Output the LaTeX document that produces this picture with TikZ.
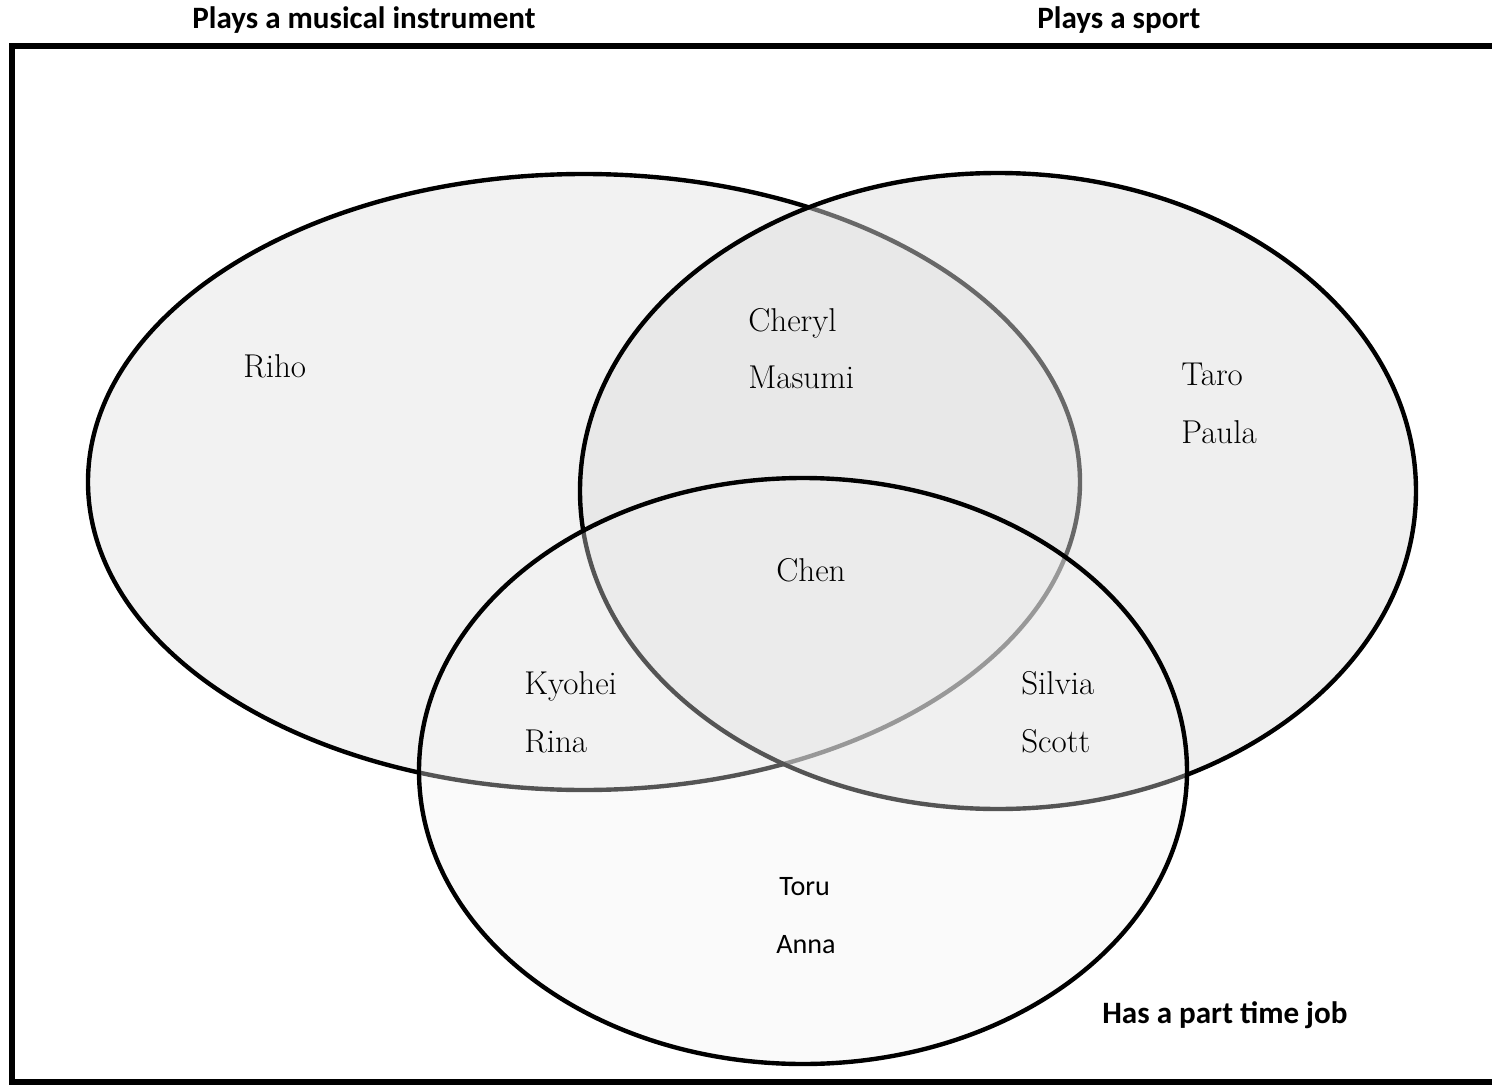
\documentclass[tikz,border=0pt]{standalone}
\usepackage{fontspec}
\newfontfamily\calibri{Carlito}
\definecolor{fillA}{gray}{0.949}
\definecolor{fillB}{gray}{0.866}
\definecolor{fillC}{gray}{0.95}
\begin{document}
\begin{tikzpicture}[x=0.02cm,y=-0.02cm,
  setring/.style={line width=2.5pt, draw=black},
  person/.style={anchor=base west, inner sep=0pt, font=\fontsize{18.8}{21}\selectfont},
  sansperson/.style={anchor=base west, inner sep=0pt, font=\calibri\fontsize{16}{19}\selectfont},
  heading/.style={anchor=base west, inner sep=0pt, font=\calibri\bfseries\fontsize{17.7}{20}\selectfont}]
\useasboundingbox (0,0) rectangle (1492,1085);
\fill[white] (0,0) rectangle (1492,1085);
\begin{scope}
\clip (0,0) rectangle (1492,1085);
\draw[line width=2.9pt] (1520,46) -- (12,46) -- (12,1082) -- (1520,1082);
\end{scope}
% sets
\draw[setring, fill=fillA] (584,482) ellipse [x radius=496, y radius=308];
\draw[setring, fill=fillB, fill opacity=0.47] (998,491) ellipse [x radius=418, y radius=318];
\draw[setring, fill=fillC, fill opacity=0.35] (803,771) ellipse [x radius=384, y radius=293];
% headings
\node[heading] (hmusic) at (192,29) {Plays a musical instrument};
\node[heading] (hsport) at (1037,29) {Plays a sport};
\node[heading] (hjob) at (1102,1023) {Has a part time job};
% names
\node[person] (riho) at (243,377) {Riho};
\node[person] (cheryl) at (748,331) {Cheryl};
\node[person] (masumi) at (748,388) {Masumi};
\node[person] (taro) at (1181,385) {Taro};
\node[person] (paula) at (1181,443) {Paula};
\node[person] (chen) at (776,581) {Chen};
\node[person] (kyohei) at (524,694) {Kyohei};
\node[person] (rina) at (524,752) {Rina};
\node[person] (silvia) at (1021,694) {Silvia};
\node[person] (scott) at (1021,752) {Scott};
\node[sansperson] (toru) at (779,895) {Toru};
\node[sansperson] (anna) at (776,953) {Anna};
\end{tikzpicture}
\end{document}
